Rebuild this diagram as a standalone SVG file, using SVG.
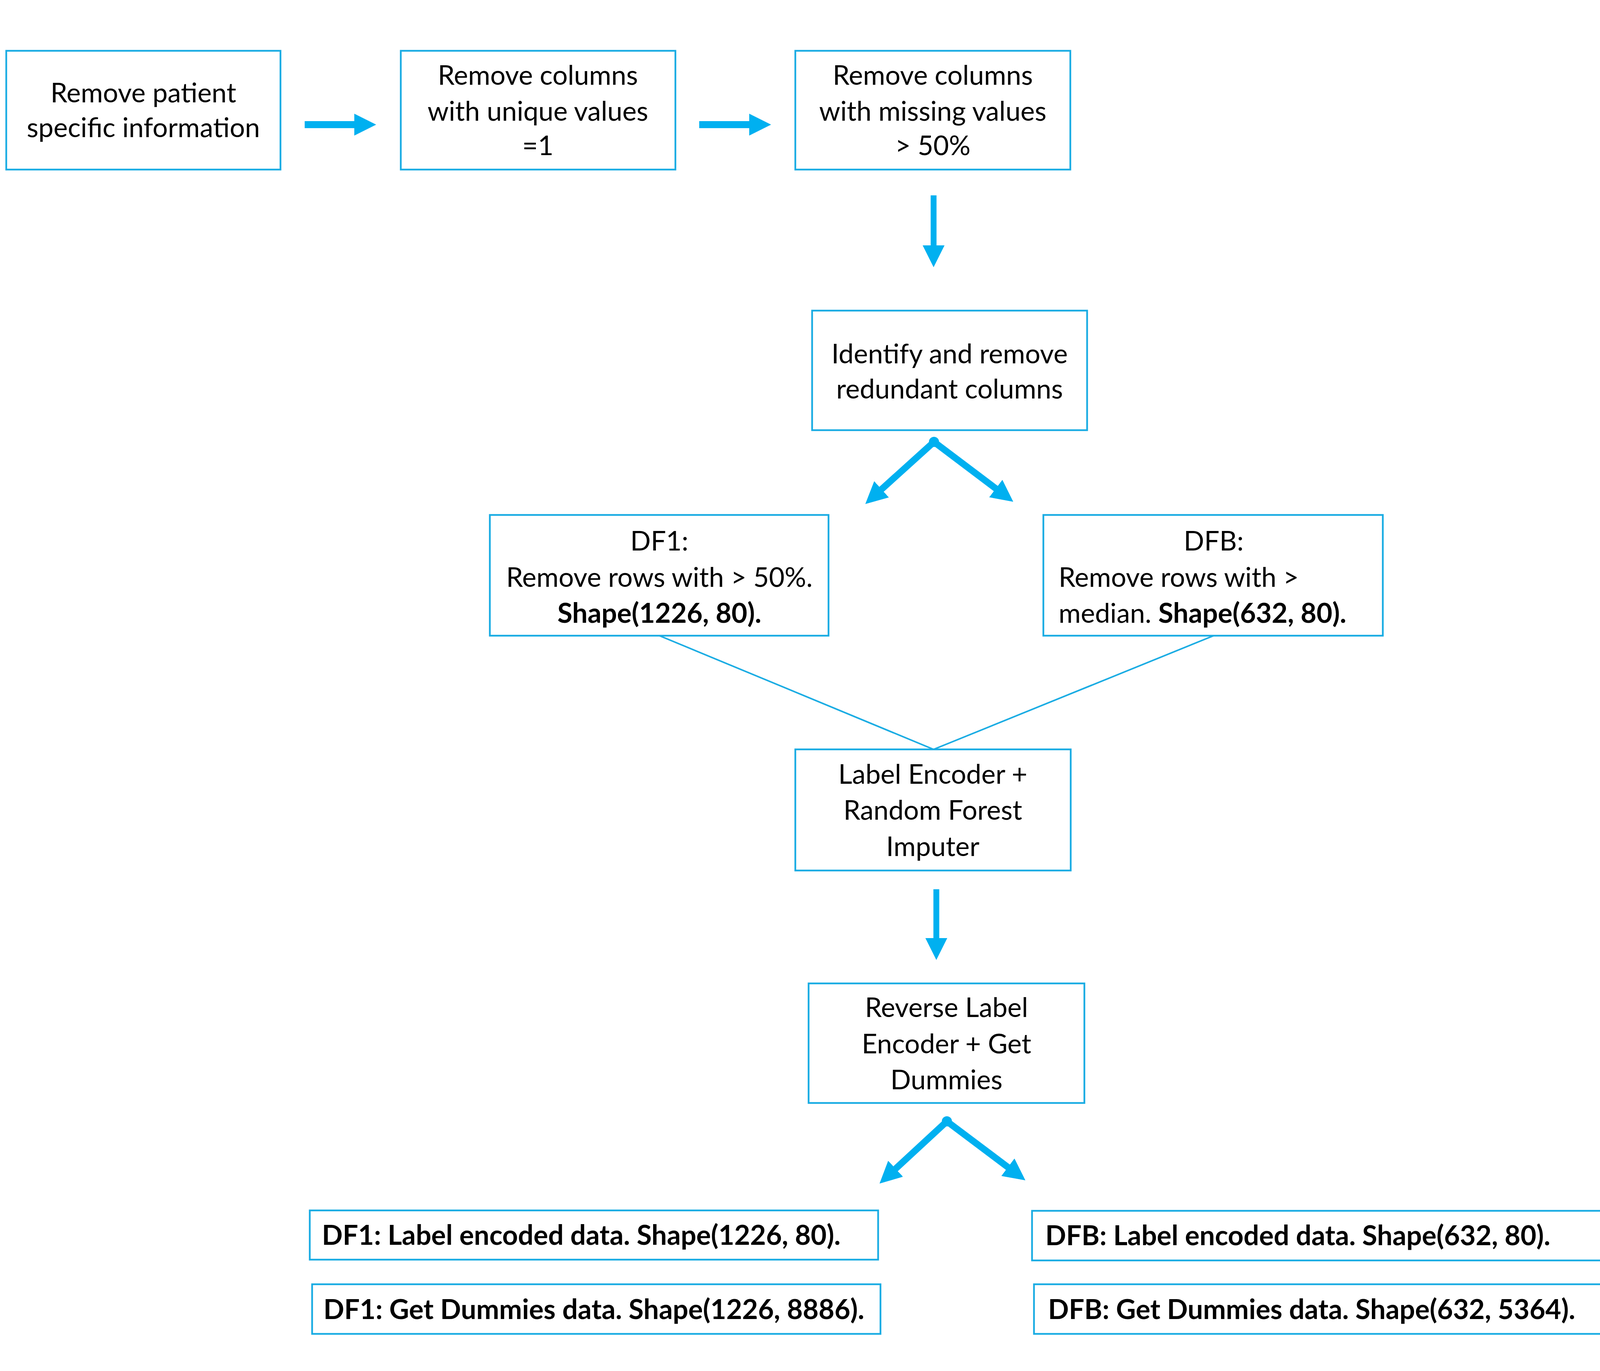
<svg xmlns="http://www.w3.org/2000/svg" width="4962" height="3509" viewBox="0 0 4962 3509">
<style>
.box{fill:#ffffff;stroke:#1AACE3;stroke-width:4.5}
.t{font-family:Lato,"Liberation Sans",sans-serif;font-size:69px;fill:#000000}
.c{text-anchor:middle}
.b{font-weight:bold;font-size:70px}
.arr{stroke:#00B0F0;fill:none}
.thin{stroke:#1AACE3;stroke-width:4;fill:none}
</style>
<defs>
<marker id="head" viewBox="0 -28 56 56" markerWidth="56" markerHeight="56" refX="1" refY="0" markerUnits="userSpaceOnUse" orient="auto">
<path d="M0,-28 L56,0 L0,28 z" fill="#00B0F0"/>
</marker>
</defs>
<rect width="4962" height="3509" fill="#ffffff"/>
<g id="connectors">
<line class="arr" x1="780" y1="319" x2="908" y2="319" stroke-width="18" marker-end="url(#head)"/>
<line class="arr" x1="1790" y1="319" x2="1919" y2="319" stroke-width="18" marker-end="url(#head)"/>
<line class="arr" x1="2390" y1="500" x2="2390" y2="629" stroke-width="15" marker-end="url(#head)"/>
<circle cx="2391" cy="1131" r="13" fill="#00B0F0"/>
<line class="arr" x1="2391" y1="1131" x2="2256" y2="1253" stroke-width="17" marker-end="url(#head)"/>
<line class="arr" x1="2391" y1="1131" x2="2550" y2="1251" stroke-width="17" marker-end="url(#head)"/>
<line class="thin" x1="1688" y1="1627" x2="2390" y2="1918"/>
<line class="thin" x1="3107" y1="1627" x2="2390" y2="1918"/>
<line class="arr" x1="2397" y1="2276" x2="2397" y2="2402" stroke-width="15" marker-end="url(#head)"/>
<circle cx="2424" cy="2870" r="13" fill="#00B0F0"/>
<line class="arr" x1="2424" y1="2870" x2="2292" y2="2992" stroke-width="17" marker-end="url(#head)"/>
<line class="arr" x1="2424" y1="2870" x2="2581" y2="2988" stroke-width="17" marker-end="url(#head)"/>
</g>
<g id="n1">
<rect class="box" x="16" y="130" width="702" height="304"/>
<text class="t c" x="367" y="262">Remove patient</text>
<text class="t c" x="367" y="351">specific information</text>
</g>
<g id="n2">
<rect class="box" x="1026" y="130" width="703" height="304"/>
<text class="t c" x="1377" y="217">Remove columns</text>
<text class="t c" x="1377" y="309">with unique values</text>
<text class="t c" x="1377" y="397">=1</text>
</g>
<g id="n3">
<rect class="box" x="2036" y="130" width="704" height="304"/>
<text class="t c" x="2388" y="217">Remove columns</text>
<text class="t c" x="2388" y="309">with missing values</text>
<text class="t c" x="2388" y="397">&gt; 50%</text>
</g>
<g id="n4">
<rect class="box" x="2079" y="795" width="704" height="306"/>
<text class="t c" x="2431" y="930">Identify and remove</text>
<text class="t c" x="2431" y="1020">redundant columns</text>
</g>
<g id="n5">
<rect class="box" x="1254" y="1318" width="867" height="309"/>
<text class="t c" x="1688" y="1409">DF1:</text>
<text class="t c" x="1688" y="1502">Remove rows with &gt; 50%.</text>
<text class="t c b" x="1688" y="1594">Shape(1226, 80).</text>
</g>
<g id="n6">
<rect class="box" x="2671" y="1318" width="869" height="309"/>
<text class="t c" x="3107" y="1409">DFB:</text>
<text class="t" x="2710" y="1502">Remove rows with &gt;</text>
<text class="t" x="2710" y="1594">median. <tspan class="b">Shape(632, 80).</tspan></text>
</g>
<g id="n7">
<rect class="box" x="2036" y="1918" width="705" height="310"/>
<text class="t c" x="2388" y="2006">Label Encoder +</text>
<text class="t c" x="2388" y="2098">Random Forest</text>
<text class="t c" x="2388" y="2191">Imputer</text>
</g>
<g id="n8">
<rect class="box" x="2070" y="2517" width="706" height="306"/>
<text class="t c" x="2423" y="2603">Reverse Label</text>
<text class="t c" x="2423" y="2696">Encoder + Get</text>
<text class="t c" x="2423" y="2788">Dummies</text>
</g>
<g id="n9">
<rect class="box" x="793" y="3098" width="1455" height="126"/>
<text class="t b" x="824" y="3186">DF1: Label encoded data. Shape(1226, 80).</text>
</g>
<g id="n10">
<rect class="box" x="799" y="3287" width="1455" height="127"/>
<text class="t b" x="828" y="3376">DF1: Get Dummies data. Shape(1226, 8886).</text>
</g>
<g id="n11">
<rect class="box" x="2642" y="3099" width="1458" height="127"/>
<text class="t b" x="2676" y="3187">DFB: Label encoded data. Shape(632, 80).</text>
</g>
<g id="n12">
<rect class="box" x="2647" y="3287" width="1457" height="127"/>
<text class="t b" x="2683" y="3376">DFB: Get Dummies data. Shape(632, 5364).</text>
</g>
</svg>
